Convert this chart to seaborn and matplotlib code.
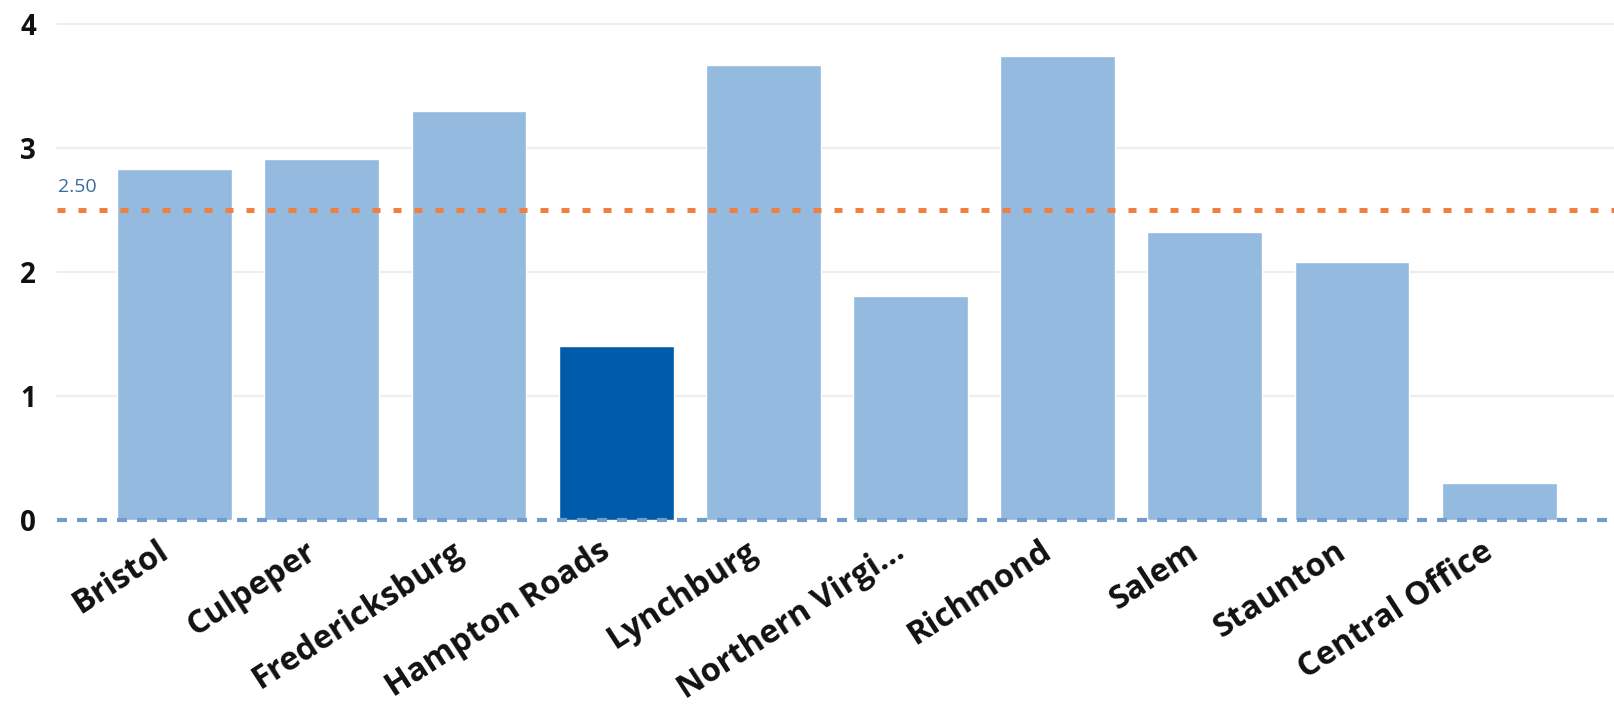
import matplotlib
matplotlib.use("Agg")
import matplotlib.pyplot as plt
import matplotlib.transforms as mtransforms
import seaborn as sns
import pandas as pd

categories = ["Bristol", "Culpeper", "Fredericksburg", "Hampton Roads", "Lynchburg",
              "Northern Virgi...", "Richmond", "Salem", "Staunton", "Central Office"]
values = [2.83, 2.91, 3.30, 1.40, 3.67, 1.81, 3.74, 2.325, 2.08, 0.30]
highlight = "Hampton Roads"
target = 2.50
y_ticks = [0, 1, 2, 3, 4]

light = "#94BADF"
dark = "#005BAA"
palette = {c: (dark if c == highlight else light) for c in categories}

sns.set_theme(style="white")
plt.rcParams['font.family'] = ['Open Sans', 'DejaVu Sans']

df = pd.DataFrame({"region": categories, "value": values})

fig = plt.figure(figsize=(16.14, 7.06), dpi=100)
ax = fig.add_axes([0.0353, 0.2635, 0.9647, 0.706])

for t in y_ticks[1:]:
    ax.axhline(t, color="#EDEDED", lw=1.6, zorder=0, clip_on=False)

sns.barplot(data=df, x="region", y="value", hue="region", palette=palette,
            legend=False, width=0.78, saturation=1, ax=ax, zorder=2)

ax.axhline(target, color="#EE8142", lw=3.6, dashes=(1.6, 2.6), zorder=4)
ax.axhline(0, color="#729DCA", lw=3.0, dashes=(2.4, 2.4), zorder=4, clip_on=False)
ax.text(-0.79, target + 0.11, f"{target:.2f}", color="#3A6BA5", fontsize=14,
        ha="left", va="bottom", zorder=5)

ax.set_xlim(-0.8, 9.78)
ax.set_ylim(0, 4.02)
ax.set_yticks(y_ticks)
ax.set_yticklabels([str(t) for t in y_ticks], fontsize=20, fontweight="bold")
ax.tick_params(axis="y", length=0, pad=15)
ax.tick_params(axis="x", length=0, pad=0)
ax.set_xticks(range(len(categories)))
ax.set_xticklabels(categories, rotation=33, ha="right", va="top", rotation_mode="anchor",
                   fontsize=23.5, fontweight="bold", color="#111111")
offset = mtransforms.ScaledTranslation(-18 / 100, -15 / 100, fig.dpi_scale_trans)
for lab in ax.get_xticklabels():
    lab.set_transform(lab.get_transform() + offset)
for lab in ax.get_yticklabels():
    lab.set_color("#111111")
ax.set_xlabel("")
ax.set_ylabel("")
for s in ax.spines.values():
    s.set_visible(False)

fig.savefig("out.png", dpi=100, facecolor="white")
